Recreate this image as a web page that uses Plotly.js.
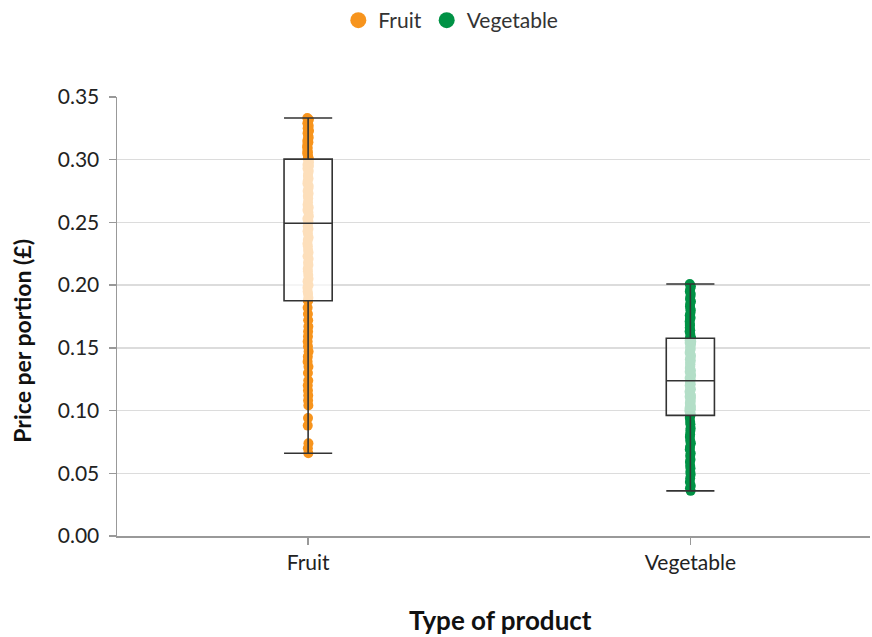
<!DOCTYPE html>
<html>
<head>
<meta charset="utf-8">
<script src="https://cdn.plot.ly/plotly-3.0.1.min.js"></script>
<style>html,body{margin:0;padding:0;background:#fff;}#chart{width:872px;height:637px;}</style>
</head>
<body>
<div id="chart"></div>
<script>
var categories = ['Fruit', 'Vegetable'];
var seriesColors = ['#F7941D', '#009245'];

var fruitPrices = [
  0.066, 0.070, 0.074, 0.088, 0.094, 0.104, 0.108, 0.112, 0.116, 0.120, 0.124, 0.130, 0.135,
  0.139, 0.143, 0.147, 0.151, 0.155, 0.159, 0.163, 0.167, 0.172, 0.177, 0.182,
  0.1876, 0.1876,
  0.190, 0.193, 0.195, 0.198, 0.200, 0.203, 0.205, 0.208, 0.211, 0.213, 0.216, 0.218,
  0.221, 0.223, 0.226, 0.228, 0.231, 0.233, 0.236, 0.238, 0.241, 0.243, 0.245, 0.247,
  0.2493,
  0.251, 0.253, 0.255, 0.258, 0.260, 0.262, 0.264, 0.266, 0.269, 0.271, 0.273, 0.275,
  0.277, 0.279, 0.281, 0.283, 0.285, 0.287, 0.289, 0.291, 0.293, 0.295, 0.296, 0.298,
  0.3005, 0.3005,
  0.302, 0.303, 0.305, 0.306, 0.307, 0.309, 0.310, 0.311, 0.313, 0.314, 0.315, 0.317,
  0.318, 0.319, 0.321, 0.322, 0.323, 0.325, 0.326, 0.327, 0.329, 0.330, 0.332, 0.3333
];

var vegetablePrices = [
  0.036, 0.038, 0.040, 0.043,
  0.046, 0.049, 0.051, 0.054, 0.056, 0.059, 0.061, 0.064, 0.066, 0.069,
  0.071, 0.074, 0.076, 0.079, 0.081, 0.084, 0.086, 0.089, 0.091, 0.094,
  0.0962, 0.0962,
  0.097, 0.098, 0.099, 0.100, 0.101, 0.102, 0.103, 0.104, 0.105, 0.106, 0.107, 0.108,
  0.110, 0.111, 0.112, 0.113, 0.114, 0.115, 0.116, 0.117, 0.119, 0.120, 0.121, 0.122,
  0.1238,
  0.125, 0.126, 0.128, 0.129, 0.131, 0.132, 0.134, 0.135, 0.137, 0.138, 0.140, 0.141,
  0.143, 0.144, 0.146, 0.147, 0.149, 0.150, 0.151, 0.153, 0.154, 0.155, 0.156, 0.157,
  0.1576, 0.1576,
  0.159, 0.161, 0.163, 0.164, 0.166, 0.168, 0.169, 0.171, 0.173, 0.174, 0.176, 0.178,
  0.180, 0.181, 0.183, 0.185, 0.187, 0.189, 0.191, 0.193, 0.195, 0.197, 0.199, 0.2009
];

var yTickVals = [0, 0.05, 0.10, 0.15, 0.20, 0.25, 0.30, 0.35];
var yTickText = ['0.00', '0.05', '0.10', '0.15', '0.20', '0.25', '0.30', '0.35'];
var xTitle = 'Type of product';
var yTitle = 'Price per portion (£)';

var FONT = 'Lato, "Open Sans", sans-serif';
var seriesValues = [fruitPrices, vegetablePrices];
var traces = [];

// points layer (invisible box, only points)
categories.forEach(function (cat, i) {
  var vals = seriesValues[i];
  traces.push({
    type: 'box',
    x: vals.map(function () { return cat; }),
    y: vals,
    name: cat,
    boxpoints: 'all',
    jitter: 0.04,
    pointpos: 0,
    width: 0.126,
    fillcolor: 'rgba(0,0,0,0)',
    line: { color: 'rgba(0,0,0,0)', width: 0 },
    marker: { color: seriesColors[i], size: 10, opacity: 1 },
    showlegend: false,
    hoverinfo: 'skip'
  });
});

// box layer on top, translucent white fill
categories.forEach(function (cat, i) {
  var vals = seriesValues[i];
  traces.push({
    type: 'box',
    x: vals.map(function () { return cat; }),
    y: vals,
    name: cat,
    boxpoints: false,
    width: 0.126,
    whiskerwidth: 1,
    fillcolor: 'rgba(255,255,255,0.7)',
    line: { color: '#333333', width: 1.6 },
    showlegend: false
  });
});

// legend entries
categories.forEach(function (cat, i) {
  traces.push({
    type: 'scatter',
    mode: 'markers',
    x: [null],
    y: [null],
    name: cat,
    marker: { color: seriesColors[i], size: 16 },
    showlegend: true
  });
});

var layout = {
  width: 872,
  height: 637,
  margin: { l: 117, r: 2, t: 97, b: 101 },
  paper_bgcolor: '#ffffff',
  plot_bgcolor: '#ffffff',
  font: { family: FONT, color: '#222222', size: 21 },
  boxmode: 'overlay',
  showlegend: true,
  legend: {
    orientation: 'h',
    x: 0.517,
    xref: 'container',
    xanchor: 'center',
    y: 1.0,
    yref: 'container',
    yanchor: 'top',
    font: { family: FONT, size: 21, color: '#333333' },
    itemwidth: 30,
    tracegroupgap: 0
  },
  xaxis: {
    type: 'category',
    categoryorder: 'array',
    categoryarray: categories,
    range: [-0.5, 1.47],
    showline: true,
    linecolor: '#999999',
    linewidth: 1.5,
    showgrid: false,
    zeroline: false,
    ticks: 'outside',
    ticklen: 7,
    tickwidth: 1.5,
    tickcolor: '#999999',
    tickfont: { family: FONT, size: 21, color: '#222222' }
  },
  yaxis: {
    range: [0, 0.35],
    tickvals: yTickVals,
    ticktext: yTickText,
    showline: true,
    linecolor: '#999999',
    linewidth: 1.5,
    showgrid: true,
    gridcolor: '#dcdcdc',
    gridwidth: 1.5,
    zeroline: false,
    ticks: 'outside',
    ticklen: 7,
    tickwidth: 1.5,
    tickcolor: '#999999',
    ticklabelstandoff: 5,
    tickfont: { family: FONT, size: 21, color: '#222222' }
  },
  annotations: [
    {
      text: '<b>' + xTitle + '</b>',
      xref: 'paper', yref: 'paper',
      x: 0.509, y: -0.191,
      xanchor: 'center', yanchor: 'middle',
      showarrow: false,
      font: { family: FONT, size: 26, color: '#111111' }
    },
    {
      text: '<b>' + yTitle + '</b>',
      xref: 'paper', yref: 'paper',
      x: -0.1255, y: 0.446,
      xanchor: 'center', yanchor: 'middle',
      textangle: -90,
      showarrow: false,
      font: { family: FONT, size: 23, color: '#111111' }
    }
  ]
};

Plotly.newPlot('chart', traces, layout, { displayModeBar: false, staticPlot: true });
</script>
</body>
</html>
